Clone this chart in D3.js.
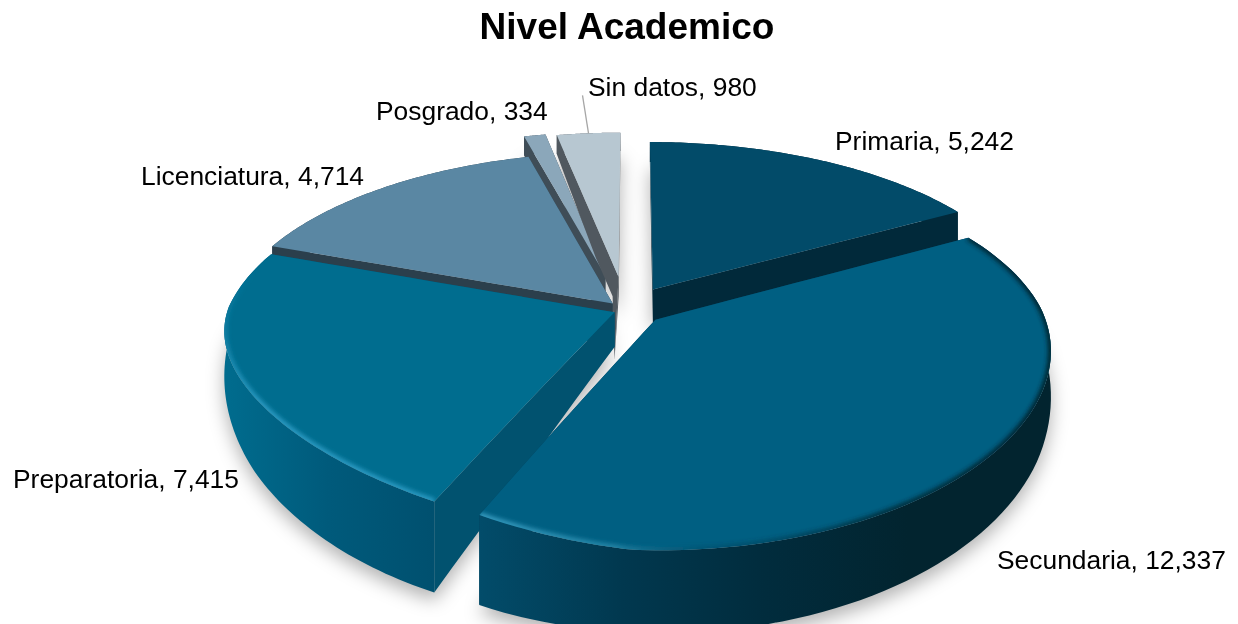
<!DOCTYPE html>
<html>
<head>
<meta charset="utf-8">
<script src="https://cdn.jsdelivr.net/npm/d3@7"></script>
<style>
  html, body { margin: 0; background: #fff; }
  text { font-family: "Liberation Sans", Arial, sans-serif; fill: #000; }
</style>
</head>
<body>
<svg id="chart"></svg>
<script>
const WIDTH = 1238;
const HEIGHT = 624;

// Data
const title = "Nivel Academico";
const categories = ["Primaria", "Secundaria", "Preparatoria", "Licenciatura", "Posgrado", "Sin datos"];
const values = [5242, 12337, 7415, 4714, 334, 980];

// Styles, same order as categories
const topColors = ["#024b69", "#005f82", "#006d8f", "#5a87a3", "#8ba7ba", "#b7c7d1"];
const cutColors = ["#01293a", "#013f58", "#01526f", "#2b3f4c", "#3f4d57", "#50585f"];
const wallStops = [
    ["#01293a", "#01293a"],
    ["#024c6a", "#01384f", "#012c3d", "#02242f", "#02242f"],
    ["#006c8e", "#005a7b", "#00506f"],
    ["#2b3f4c", "#2b3f4c"],
    ["#3f4d57", "#3f4d57"],
    ["#50585f", "#50585f"]
];
// How far each slice is pulled out, in units of the pie radius (sideways, backwards)
const explodeU = [0.055, 0.06, -0.045, -0.05, -0.071, -0.036];
const explodeV = [0.1, -0.07, -0.03, 0.02, 0.18, 0.175];
const apexDrop = [0, 0, 0, 0, 0, 50];
const labelPos = [[835, 150], [997, 569], [13, 488], [141, 185], [376, 120], [588, 96]];
const drawOrder = [4, 5, 3, 0, 2, 1];

// Fake 3D camera
const cx = 632, cy = 307, rx = 386, ry = 178;
const perspBack = 0.17, perspFront = 0.203;
const warpLeft = 34, warpRight = 20, tilt = 25;
const depth = d3.scaleLinear().domain([-1.1, -0.5, 0, 0.5, 1.1]).range([84, 60, 33, 33, 20]);

const svg = d3.select("#chart").attr("width", WIDTH).attr("height", HEIGHT);
svg.style("display", "block");
const defs = svg.append("defs");
const line = d3.line();

const slices = d3.pie().sort(null)(values).map((d, i) => {
    d.i = i;
    return d;
});

function project(d, angle, r, bottom) {
    const u = r * Math.sin(angle) + explodeU[d.i];
    const v = r * Math.cos(angle) + explodeV[d.i];
    const s = 1 / (1 + (v > 0 ? perspBack : perspFront) * v);
    const front = Math.max(0, -v);
    // the front of the pie is a bit narrower than a true ellipse on both sides
    const x = cx + (rx * u - (u < 0 ? warpLeft : warpRight) * u * front) * s;
    const y = cy - ry * v * s;
    if (bottom) return [x, y + depth(v)];
    return [x, y + tilt * Math.min(0, u) * front * s];
}

function arcPoints(d, bottom) {
    const n = 80;
    return d3.range(n + 1).map(i => project(d, d.startAngle + (d.endAngle - d.startAngle) * i / n, 1, bottom));
}

function edgePoints(d, angle, bottom) {
    const n = 12;
    return d3.range(n + 1).map(i => project(d, angle, 1 - i / n, bottom));
}

function cutPoints(d, angle) {
    const topEdge = edgePoints(d, angle, false);
    const bottomEdge = edgePoints(d, angle, true);
    if (apexDrop[d.i]) {
        const last = bottomEdge[bottomEdge.length - 1];
        bottomEdge[bottomEdge.length - 1] = [last[0] - 4, last[1] + apexDrop[d.i]];
    }
    return topEdge.concat(bottomEdge.reverse());
}

function topPoints(d) {
    return edgePoints(d, d.startAngle, false).reverse()
        .concat(arcPoints(d, false))
        .concat(edgePoints(d, d.endAngle, false));
}

// Blur filters
function blur(id, dev) {
    defs.append("filter").attr("id", id)
        .attr("x", "-30%").attr("y", "-30%").attr("width", "160%").attr("height", "160%")
        .append("feGaussianBlur").attr("stdDeviation", dev);
}
blur("shadowBlur", 9);
blur("edgeBlur", 2);

// Wall gradients
slices.forEach(d => {
    const g = defs.append("linearGradient").attr("id", "wall" + d.i);
    const stops = wallStops[d.i];
    stops.forEach((c, j) => {
        g.append("stop").attr("offset", j / (stops.length - 1)).attr("stop-color", c);
    });
    defs.append("clipPath").attr("id", "topClip" + d.i)
        .append("path").attr("d", line(topPoints(d)) + "Z");
});

// Rim gradients: light on the left of the front, dark towards the right
function rim(id, x1, y1, x2, y2, stops) {
    const g = defs.append("linearGradient").attr("id", id)
        .attr("gradientUnits", "userSpaceOnUse")
        .attr("x1", x1).attr("x2", x2).attr("y1", y1).attr("y2", y2);
    stops.forEach(s => {
        g.append("stop").attr("offset", s[0]).attr("stop-color", s[1]).attr("stop-opacity", s[2]);
    });
}
rim("rimPrep", 0, 270, 0, 400, [[0, "#1c8fb8", 0], [1, "#2a9ac2", 1]]);
rim("rimSec", 470, 0, 1055, 0, [[0, "#3a9fc4", 1], [0.25, "#2a8cad", 0.8], [0.42, "#01384f", 0.3], [0.7, "#02242f", 0.8], [1, "#02242f", 1]]);

// Soft shadow below the slices
svg.append("g").attr("filter", "url(#shadowBlur)").attr("transform", "translate(0,8)")
    .selectAll("path").data(slices).join("path")
    .attr("d", d => line(arcPoints(d, true).concat([project(d, 0, 0, true)])) + "Z")
    .attr("fill", "#000").attr("opacity", 0.3);

// Slices, from back to front
const sliceG = svg.append("g").selectAll("g")
    .data(drawOrder.map(i => slices[i])).join("g");

sliceG.append("path")
    .attr("d", d => line(cutPoints(d, d.endAngle)) + "Z")
    .attr("fill", d => cutColors[d.i]);
sliceG.append("path")
    .attr("d", d => line(cutPoints(d, d.startAngle)) + "Z")
    .attr("fill", d => cutColors[d.i]);
sliceG.append("path")
    .attr("d", d => line(arcPoints(d, false).concat(arcPoints(d, true).reverse())) + "Z")
    .attr("fill", d => "url(#wall" + d.i + ")");
sliceG.append("path")
    .attr("d", d => line(topPoints(d)) + "Z")
    .attr("fill", d => topColors[d.i]);

// Bevel along the rim of the two front slices, kept inside the top face
sliceG.filter(d => d.i === 1 || d.i === 2).append("g")
    .attr("clip-path", d => "url(#topClip" + d.i + ")")
    .append("path")
    .attr("d", d => line(arcPoints(d, false)))
    .attr("fill", "none")
    .attr("stroke", d => d.i === 1 ? "url(#rimSec)" : "url(#rimPrep)")
    .attr("stroke-width", 6)
    .attr("filter", "url(#edgeBlur)");

// Leader line of the small slice
const leaderEnd = project(slices[5], (slices[5].startAngle + slices[5].endAngle) / 2, 1, false);
svg.append("line")
    .attr("x1", leaderEnd[0] - 6).attr("y1", leaderEnd[1] - 38)
    .attr("x2", leaderEnd[0]).attr("y2", leaderEnd[1])
    .attr("stroke", "#a6a6a6").attr("stroke-width", 1.3);

// Labels
svg.append("g").selectAll("text").data(slices).join("text")
    .attr("x", d => labelPos[d.i][0])
    .attr("y", d => labelPos[d.i][1])
    .attr("font-size", 26.4)
    .text(d => categories[d.i] + ", " + d3.format(",")(d.value));

svg.append("text")
    .attr("x", 627).attr("y", 39)
    .attr("text-anchor", "middle")
    .attr("font-size", 37)
    .attr("font-weight", "bold")
    .text(title);
</script>
</body>
</html>
